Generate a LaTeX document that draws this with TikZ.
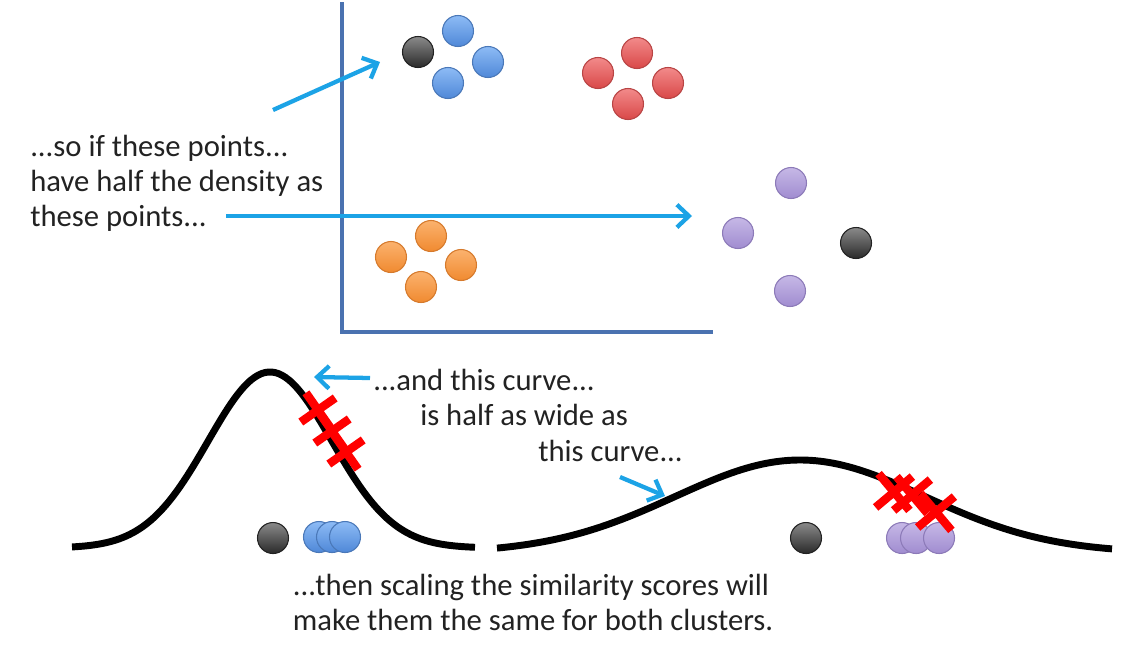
\documentclass[tikz,border=0pt]{standalone}
\usepackage{fontspec}
\setmainfont{Carlito}
\usetikzlibrary{arrows.meta}
\definecolor{axisblue}{HTML}{4A72B0}
\definecolor{arrcyan}{HTML}{1CA3E6}
\definecolor{txt}{HTML}{222222}
\definecolor{bluetop}{HTML}{8DBBF5}
\definecolor{bluebot}{HTML}{4F88D8}
\definecolor{blueedge}{HTML}{4A78B8}
\definecolor{redtop}{HTML}{F28A8A}
\definecolor{redbot}{HTML}{D94848}
\definecolor{rededge}{HTML}{B84444}
\definecolor{ortop}{HTML}{FBB26E}
\definecolor{orbot}{HTML}{F08A30}
\definecolor{oredge}{HTML}{D67A2C}
\definecolor{putop}{HTML}{C6B8E6}
\definecolor{pubot}{HTML}{A08CD0}
\definecolor{puedge}{HTML}{8C7AB8}
\definecolor{bktop}{HTML}{8A8A8A}
\definecolor{bkbot}{HTML}{2A2A2A}
\definecolor{bkedge}{HTML}{222222}
\tikzset{
  dot/.style={circle, inner sep=0pt, minimum size=31*0.75pt, line width=0.8pt,
    top color=#1top, bottom color=#1bot, draw=#1edge},
  arr/.style={draw=arrcyan, line width=3.2pt, -{Straight Barb[length=9pt, width=17pt, line width=3.2pt]}},
  axis/.style={draw=axisblue, line width=2.3pt},
  curve/.style={draw=black, line width=5.2pt},
  xm/.style={draw=red, line width=6.3pt},
  lbl/.style={text=txt, font=\fontsize{23}{28}\selectfont, inner sep=0pt},
}
\begin{document}
\begin{tikzpicture}[x=0.75pt, y=-0.75pt]
\useasboundingbox (0,0) rectangle (1126,658);
\fill[white] (0,0) rectangle (1126,658);
% axes
\coordinate (ytop) at (342,2);
\coordinate (orig) at (342,332);
\coordinate (xend) at (713,332);
\draw[axis] (ytop) -- (orig) -- (xend);
% clusters
\node[dot=bk] (k1) at (418,52) {};
\node[dot=blue] (bl1) at (458,31) {};
\node[dot=blue] (bl2) at (488,62) {};
\node[dot=blue] (bl3) at (448,83) {};
\node[dot=red] (r1) at (637,53) {};
\node[dot=red] (r2) at (598,73) {};
\node[dot=red] (r3) at (668,83) {};
\node[dot=red] (r4) at (628,104) {};
\node[dot=or] (o1) at (431,236) {};
\node[dot=or] (o2) at (391,257) {};
\node[dot=or] (o3) at (461,265) {};
\node[dot=or] (o4) at (421,287) {};
\node[dot=pu] (p1) at (791,183) {};
\node[dot=pu] (p2) at (738,233) {};
\node[dot=bk] (k2) at (856,243) {};
\node[dot=pu] (p3) at (790,291) {};
% texts top left
\node[lbl, anchor=base west] (t1) at (30,156) {...so if these points...};
\node[lbl, anchor=base west] (t2) at (30,191) {have half the density as};
\node[lbl, anchor=base west] (t3) at (30,226) {these points...};
% arrows top
\coordinate (a1s) at (273,110);
\coordinate (a1e) at (380,62);
\draw[arr] (a1s) -- (a1e);
\coordinate (a2s) at (226,216);
\coordinate (a2e) at (692,216);
\draw[arr] (a2s) -- (a2e);
% curves
\draw[curve] plot[domain=72:475, samples=120, smooth] (\x, {548-176*exp(-0.5*((\x-270)/62)^2)});
\draw[curve] plot[domain=497:1112, samples=140, smooth] (\x, {553-93*exp(-0.5*((\x-800)/125)^2)});
% bottom dots left
\node[dot=bk] (k3) at (273,538) {};
\node[dot=blue] (bb1) at (319,537) {};
\node[dot=blue] (bb2) at (332,537) {};
\node[dot=blue] (bb3) at (345,537) {};
% bottom dots right
\node[dot=bk] (k4) at (806,538) {};
\node[dot=pu] (pb1) at (902,538) {};
\node[dot=pu] (pb2) at (916,538) {};
\node[dot=pu] (pb3) at (939,538) {};
% red crosses left
\foreach \cx/\cy in {318/410, 332/431, 346/452}{
  \begin{scope}[shift={(\cx,\cy)}, rotate=-55]
    \draw[xm] (-21,0) -- (21,0) (0,-21) -- (0,21);
  \end{scope}
}
% red crosses right
\foreach \cx/\cy in {894/492, 912/495, 936/512}{
  \begin{scope}[shift={(\cx,\cy)}, rotate=40]
    \draw[xm] (-24,0) -- (24,0) (0,-24) -- (0,24);
  \end{scope}
}
% curve labels
\node[lbl, anchor=base west] (c1) at (373,390) {...and this curve...};
\node[lbl, anchor=base west] (c2) at (420,425) {is half as wide as};
\node[lbl, anchor=base west] (c3) at (538,461) {this curve...};
\coordinate (a3s) at (370,378);
\coordinate (a3e) at (314,377);
\draw[arr] (a3s) -- (a3e);
\coordinate (a4s) at (620,477);
\coordinate (a4e) at (665,496);
\draw[arr] (a4s) -- (a4e);
% bottom text
\node[lbl, anchor=base] (b1) at (531,595) {...then scaling the similarity scores will};
\node[lbl, anchor=base] (b2) at (533,630) {make them the same for both clusters.};
\end{tikzpicture}
\end{document}
